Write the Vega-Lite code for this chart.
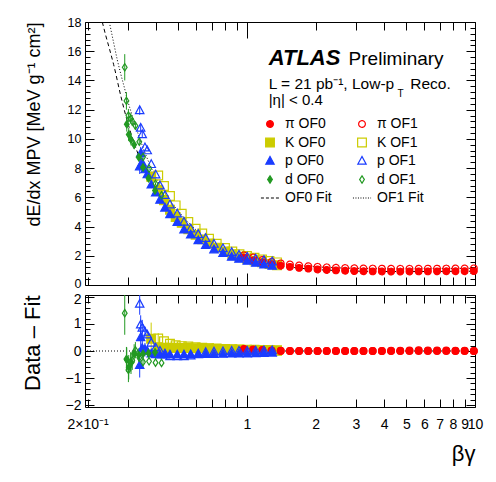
{
"$schema":"https://vega.github.io/schema/vega-lite/v6.json",
"background":"white",
"padding":{"left":20,"top":15,"right":14,"bottom":10},
"spacing":10,
"bounds":"flush",
"config":{"font":"Liberation Sans","view":{"stroke":"#000","strokeWidth":1},
"axis":{"grid":false,"domain":false,"tickColor":"#000","labelColor":"#000","titleColor":"#000","labelFont":"Liberation Sans","titleFont":"Liberation Sans","titleFontWeight":"normal","tickWidth":1,"labelBound":false,"labelFlush":false,"labelOverlap":false,"offset":0},
"legend":{"labelFont":"Liberation Sans","labelColor":"#000"}},
"datasets":{
"fit0":[{"x":0.232,"f":18.0},{"x":0.24,"f":17.1},{"x":0.25,"f":16.1},{"x":0.26,"f":15.1},{"x":0.28,"f":12.9},{"x":0.30,"f":11.1},{"x":0.32,"f":9.7},{"x":0.34,"f":8.62},{"x":0.36,"f":7.76},{"x":0.38,"f":6.97},{"x":0.40,"f":6.38},{"x":0.43,"f":5.64},{"x":0.46,"f":5.04},{"x":0.50,"f":4.40},{"x":0.55,"f":3.79},{"x":0.60,"f":3.32},{"x":0.65,"f":2.96},{"x":0.70,"f":2.68},{"x":0.80,"f":2.25},{"x":0.90,"f":1.97},{"x":1.0,"f":1.75},{"x":1.2,"f":1.47},{"x":1.4,"f":1.31},{"x":1.6,"f":1.20},{"x":2.0,"f":1.06},{"x":2.5,"f":0.99},{"x":3.0,"f":0.95},{"x":4.0,"f":0.925},{"x":5.0,"f":0.92},{"x":6.0,"f":0.925},{"x":8.0,"f":0.935},{"x":10.0,"f":0.945}],
"fit1":[{"x":0.249,"f":18.0},{"x":0.26,"f":16.6},{"x":0.27,"f":15.4},{"x":0.28,"f":14.4},{"x":0.29,"f":13.5},{"x":0.30,"f":12.6},{"x":0.31,"f":11.85},{"x":0.32,"f":11.15},{"x":0.34,"f":9.95},{"x":0.36,"f":8.9},{"x":0.38,"f":8.05},{"x":0.40,"f":7.3},{"x":0.43,"f":6.45},{"x":0.46,"f":5.78},{"x":0.50,"f":5.05},{"x":0.55,"f":4.33},{"x":0.60,"f":3.75},{"x":0.65,"f":3.3},{"x":0.70,"f":2.95},{"x":0.80,"f":2.45},{"x":0.90,"f":2.12},{"x":1.0,"f":1.93},{"x":1.2,"f":1.66},{"x":1.4,"f":1.48},{"x":1.6,"f":1.37},{"x":2.0,"f":1.245},{"x":2.5,"f":1.175},{"x":3.0,"f":1.14},{"x":4.0,"f":1.115},{"x":5.0,"f":1.11},{"x":6.0,"f":1.12},{"x":8.0,"f":1.13},{"x":10.0,"f":1.14}],
"pts":[
{"s":"K OF0","x":0.38,"y":7.4,"r":0.45,"e":0.4,"re":0.6},
{"s":"K OF0","x":0.408,"y":6.5,"r":0.12,"e":0,"re":0},
{"s":"K OF0","x":0.4325,"y":5.8,"r":0.12,"e":0,"re":0},
{"s":"K OF0","x":0.4595,"y":5.15,"r":0.12,"e":0,"re":0},
{"s":"K OF0","x":0.4866,"y":4.65,"r":0.12,"e":0,"re":0},
{"s":"K OF0","x":0.5173,"y":4.25,"r":0.11,"e":0,"re":0},
{"s":"K OF0","x":0.5529,"y":3.82,"r":0.11,"e":0,"re":0},
{"s":"K OF0","x":0.5952,"y":3.43,"r":0.1,"e":0,"re":0},
{"s":"K OF0","x":0.6364,"y":3.12,"r":0.1,"e":0,"re":0},
{"s":"K OF0","x":0.6814,"y":2.84,"r":0.09,"e":0,"re":0},
{"s":"K OF0","x":0.7364,"y":2.56,"r":0.08,"e":0,"re":0},
{"s":"K OF0","x":0.8007,"y":2.3,"r":0.07,"e":0,"re":0},
{"s":"K OF0","x":0.8621,"y":2.1,"r":0.06,"e":0,"re":0},
{"s":"K OF0","x":0.927,"y":1.94,"r":0.05,"e":0,"re":0},
{"s":"K OF0","x":1.0,"y":1.8,"r":0.04,"e":0,"re":0},
{"s":"K OF0","x":1.079,"y":1.67,"r":0.03,"e":0,"re":0},
{"s":"K OF0","x":1.164,"y":1.55,"r":0.02,"e":0,"re":0},
{"s":"K OF0","x":1.255,"y":1.44,"r":0.02,"e":0,"re":0},
{"s":"K OF0","x":1.354,"y":1.35,"r":0.01,"e":0,"re":0},
{"s":"K OF1","x":0.408,"y":7.5,"r":0.46,"e":0,"re":0.2},
{"s":"K OF1","x":0.4325,"y":6.78,"r":0.36,"e":0,"re":0},
{"s":"K OF1","x":0.4595,"y":6.09,"r":0.27,"e":0,"re":0},
{"s":"K OF1","x":0.4866,"y":5.45,"r":0.21,"e":0,"re":0},
{"s":"K OF1","x":0.5173,"y":4.88,"r":0.18,"e":0,"re":0},
{"s":"K OF1","x":0.5529,"y":4.31,"r":0.17,"e":0,"re":0},
{"s":"K OF1","x":0.5952,"y":3.85,"r":0.14,"e":0,"re":0},
{"s":"K OF1","x":0.6364,"y":3.52,"r":0.12,"e":0,"re":0},
{"s":"K OF1","x":0.6814,"y":3.17,"r":0.1,"e":0,"re":0},
{"s":"K OF1","x":0.7364,"y":2.83,"r":0.09,"e":0,"re":0},
{"s":"K OF1","x":0.8007,"y":2.53,"r":0.08,"e":0,"re":0},
{"s":"K OF1","x":0.8621,"y":2.29,"r":0.07,"e":0,"re":0},
{"s":"K OF1","x":0.927,"y":2.1,"r":0.06,"e":0,"re":0},
{"s":"K OF1","x":1.0,"y":1.98,"r":0.05,"e":0,"re":0},
{"s":"K OF1","x":1.079,"y":1.86,"r":0.05,"e":0,"re":0},
{"s":"K OF1","x":1.164,"y":1.74,"r":0.04,"e":0,"re":0},
{"s":"K OF1","x":1.255,"y":1.64,"r":0.04,"e":0,"re":0},
{"s":"K OF1","x":1.354,"y":1.55,"r":0.03,"e":0,"re":0},
{"s":"π OF0","x":0.970,"y":1.88,"r":0.08,"e":0,"re":0},
{"s":"π OF0","x":1.064,"y":1.68,"r":0.06,"e":0,"re":0},
{"s":"π OF0","x":1.168,"y":1.55,"r":0.04,"e":0,"re":0},
{"s":"π OF0","x":1.282,"y":1.42,"r":0.02,"e":0,"re":0},
{"s":"π OF0","x":1.406,"y":1.32,"r":0.01,"e":0,"re":0},
{"s":"π OF0","x":1.543,"y":1.24,"r":0.0,"e":0,"re":0},
{"s":"π OF0","x":1.693,"y":1.17,"r":0.0,"e":0,"re":0},
{"s":"π OF0","x":1.858,"y":1.12,"r":0.0,"e":0,"re":0},
{"s":"π OF0","x":2.039,"y":1.065,"r":0.0,"e":0,"re":0},
{"s":"π OF0","x":2.237,"y":1.03,"r":0.0,"e":0,"re":0},
{"s":"π OF0","x":2.455,"y":1.0,"r":0.0,"e":0,"re":0},
{"s":"π OF0","x":2.694,"y":0.975,"r":0.0,"e":0,"re":0},
{"s":"π OF0","x":2.956,"y":0.955,"r":0.0,"e":0,"re":0},
{"s":"π OF0","x":3.243,"y":0.94,"r":0.0,"e":0,"re":0},
{"s":"π OF0","x":3.559,"y":0.93,"r":0.0,"e":0,"re":0},
{"s":"π OF0","x":3.905,"y":0.925,"r":0.0,"e":0,"re":0},
{"s":"π OF0","x":4.285,"y":0.92,"r":0.01,"e":0,"re":0},
{"s":"π OF0","x":4.702,"y":0.92,"r":0.01,"e":0,"re":0},
{"s":"π OF0","x":5.160,"y":0.925,"r":0.02,"e":0,"re":0},
{"s":"π OF0","x":5.662,"y":0.93,"r":0.03,"e":0,"re":0},
{"s":"π OF0","x":6.213,"y":0.93,"r":0.02,"e":0,"re":0},
{"s":"π OF0","x":6.817,"y":0.935,"r":0.02,"e":0,"re":0},
{"s":"π OF0","x":7.481,"y":0.94,"r":0.02,"e":0,"re":0},
{"s":"π OF0","x":8.208,"y":0.94,"r":0.01,"e":0,"re":0},
{"s":"π OF0","x":9.007,"y":0.945,"r":0.01,"e":0,"re":0},
{"s":"π OF0","x":9.884,"y":0.95,"r":0.0,"e":0,"re":0},
{"s":"π OF1","x":0.970,"y":2.03,"r":0.05,"e":0,"re":0},
{"s":"π OF1","x":1.064,"y":1.88,"r":0.03,"e":0,"re":0},
{"s":"π OF1","x":1.168,"y":1.72,"r":0.02,"e":0,"re":0},
{"s":"π OF1","x":1.282,"y":1.59,"r":0.01,"e":0,"re":0},
{"s":"π OF1","x":1.406,"y":1.48,"r":0,"e":0,"re":0},
{"s":"π OF1","x":1.543,"y":1.41,"r":0,"e":0,"re":0},
{"s":"π OF1","x":1.693,"y":1.34,"r":0,"e":0,"re":0},
{"s":"π OF1","x":1.858,"y":1.29,"r":0,"e":0,"re":0},
{"s":"π OF1","x":2.039,"y":1.245,"r":0,"e":0,"re":0},
{"s":"π OF1","x":2.237,"y":1.21,"r":0,"e":0,"re":0},
{"s":"π OF1","x":2.455,"y":1.18,"r":0,"e":0,"re":0},
{"s":"π OF1","x":2.694,"y":1.16,"r":0,"e":0,"re":0},
{"s":"π OF1","x":2.956,"y":1.145,"r":0,"e":0,"re":0},
{"s":"π OF1","x":3.243,"y":1.135,"r":0,"e":0,"re":0},
{"s":"π OF1","x":3.559,"y":1.125,"r":0,"e":0,"re":0},
{"s":"π OF1","x":3.905,"y":1.12,"r":0,"e":0,"re":0},
{"s":"π OF1","x":4.285,"y":1.115,"r":0,"e":0,"re":0},
{"s":"π OF1","x":4.702,"y":1.11,"r":0,"e":0,"re":0},
{"s":"π OF1","x":5.160,"y":1.11,"r":0,"e":0,"re":0},
{"s":"π OF1","x":5.662,"y":1.115,"r":0,"e":0,"re":0},
{"s":"π OF1","x":6.213,"y":1.12,"r":0,"e":0,"re":0},
{"s":"π OF1","x":6.817,"y":1.12,"r":0,"e":0,"re":0},
{"s":"π OF1","x":7.481,"y":1.125,"r":0,"e":0,"re":0},
{"s":"π OF1","x":8.208,"y":1.13,"r":0,"e":0,"re":0},
{"s":"π OF1","x":9.007,"y":1.135,"r":0,"e":0,"re":0},
{"s":"π OF1","x":9.884,"y":1.14,"r":0,"e":0,"re":0},
{"s":"p OF0","x":0.3384,"y":8.1,"r":-0.53,"e":0.5,"re":0.45},
{"s":"p OF0","x":0.3418,"y":9.0,"r":0.5,"e":0.45,"re":0.45},
{"s":"p OF0","x":0.3473,"y":8.35,"r":0.1,"e":0.3,"re":0.35},
{"s":"p OF0","x":0.3569,"y":7.9,"r":0.05,"e":0.2,"re":0.25},
{"s":"p OF0","x":0.3653,"y":7.56,"r":0.0,"e":0,"re":0.15},
{"s":"p OF0","x":0.3804,"y":6.86,"r":-0.1,"e":0,"re":0},
{"s":"p OF0","x":0.3977,"y":6.31,"r":-0.13,"e":0,"re":0},
{"s":"p OF0","x":0.4153,"y":5.82,"r":-0.14,"e":0,"re":0},
{"s":"p OF0","x":0.4368,"y":5.28,"r":-0.14,"e":0,"re":0},
{"s":"p OF0","x":0.4595,"y":4.83,"r":-0.14,"e":0,"re":0},
{"s":"p OF0","x":0.4946,"y":4.3,"r":-0.14,"e":0,"re":0},
{"s":"p OF0","x":0.5293,"y":3.78,"r":-0.14,"e":0,"re":0},
{"s":"p OF0","x":0.5664,"y":3.44,"r":-0.13,"e":0,"re":0},
{"s":"p OF0","x":0.6113,"y":3.05,"r":-0.13,"e":0,"re":0},
{"s":"p OF0","x":0.659,"y":2.72,"r":-0.12,"e":0,"re":0},
{"s":"p OF0","x":0.7166,"y":2.42,"r":-0.12,"e":0,"re":0},
{"s":"p OF0","x":0.7848,"y":2.17,"r":-0.11,"e":0,"re":0},
{"s":"p OF0","x":0.8568,"y":1.92,"r":-0.1,"e":0,"re":0},
{"s":"p OF0","x":0.9223,"y":1.78,"r":-0.1,"e":0,"re":0},
{"s":"p OF0","x":1.003,"y":1.64,"r":-0.1,"e":0,"re":0},
{"s":"p OF0","x":1.092,"y":1.5,"r":-0.09,"e":0,"re":0},
{"s":"p OF0","x":1.187,"y":1.39,"r":-0.08,"e":0,"re":0},
{"s":"p OF0","x":1.29,"y":1.3,"r":-0.07,"e":0,"re":0},
{"s":"p OF1","x":0.3384,"y":11.95,"r":1.74,"e":0.3,"re":0.4},
{"s":"p OF1","x":0.3418,"y":10.75,"r":0.97,"e":0.25,"re":0.35},
{"s":"p OF1","x":0.3473,"y":10.3,"r":0.85,"e":0.2,"re":0.3},
{"s":"p OF1","x":0.3569,"y":9.4,"r":0.7,"e":0,"re":0.2},
{"s":"p OF1","x":0.3653,"y":9.2,"r":0.6,"e":0,"re":0.15},
{"s":"p OF1","x":0.3804,"y":8.26,"r":0.3,"e":0,"re":0},
{"s":"p OF1","x":0.3977,"y":7.55,"r":0.12,"e":0,"re":0},
{"s":"p OF1","x":0.4153,"y":6.8,"r":0.0,"e":0,"re":0},
{"s":"p OF1","x":0.4368,"y":6.14,"r":-0.1,"e":0,"re":0},
{"s":"p OF1","x":0.4595,"y":5.5,"r":-0.2,"e":0,"re":0},
{"s":"p OF1","x":0.4946,"y":4.88,"r":-0.2,"e":0,"re":0},
{"s":"p OF1","x":0.5293,"y":4.31,"r":-0.2,"e":0,"re":0},
{"s":"p OF1","x":0.5664,"y":3.85,"r":-0.17,"e":0,"re":0},
{"s":"p OF1","x":0.6113,"y":3.47,"r":-0.1,"e":0,"re":0},
{"s":"p OF1","x":0.659,"y":3.2,"r":-0.05,"e":0,"re":0},
{"s":"p OF1","x":0.7166,"y":2.8,"r":-0.03,"e":0,"re":0},
{"s":"p OF1","x":0.7848,"y":2.5,"r":-0.02,"e":0,"re":0},
{"s":"p OF1","x":0.8568,"y":2.24,"r":0,"e":0,"re":0},
{"s":"p OF1","x":0.9223,"y":2.06,"r":0,"e":0,"re":0},
{"s":"p OF1","x":1.003,"y":1.92,"r":0,"e":0,"re":0},
{"s":"p OF1","x":1.092,"y":1.8,"r":0.01,"e":0,"re":0},
{"s":"p OF1","x":1.187,"y":1.69,"r":0.02,"e":0,"re":0},
{"s":"p OF1","x":1.29,"y":1.6,"r":0.02,"e":0,"re":0},
{"s":"d OF0","x":0.297,"y":11.0,"r":-0.32,"e":0.5,"re":0.45},
{"s":"d OF0","x":0.303,"y":10.3,"r":-0.6,"e":0.45,"re":0.45},
{"s":"d OF0","x":0.31,"y":9.95,"r":-0.45,"e":0.4,"re":0.4},
{"s":"d OF0","x":0.32,"y":9.6,"r":-0.1,"e":0.3,"re":0.35},
{"s":"d OF0","x":0.335,"y":8.75,"r":-0.15,"e":0.25,"re":0.25},
{"s":"d OF0","x":0.35,"y":8.05,"r":-0.1,"e":0.2,"re":0.2},
{"s":"d OF0","x":0.37,"y":7.31,"r":-0.08,"e":0.15,"re":0.1},
{"s":"d OF0","x":0.395,"y":6.47,"r":-0.05,"e":0.1,"re":0},
{"s":"d OF1","x":0.291,"y":14.9,"r":1.4,"e":0.9,"re":0.8},
{"s":"d OF1","x":0.296,"y":12.6,"r":-0.3,"e":0.6,"re":0.45},
{"s":"d OF1","x":0.302,"y":11.6,"r":-0.7,"e":0.45,"re":0.45},
{"s":"d OF1","x":0.309,"y":11.4,"r":-0.4,"e":0.35,"re":0.35},
{"s":"d OF1","x":0.314,"y":11.2,"r":-0.35,"e":0.3,"re":0.35},
{"s":"d OF1","x":0.324,"y":10.9,"r":0.03,"e":0.25,"re":0.3},
{"s":"d OF1","x":0.337,"y":9.8,"r":-0.25,"e":0.2,"re":0.2},
{"s":"d OF1","x":0.35,"y":8.76,"r":-0.41,"e":0.15,"re":0.1},
{"s":"d OF1","x":0.372,"y":7.96,"r":-0.38,"e":0.1,"re":0},
{"s":"d OF1","x":0.397,"y":6.93,"r":-0.43,"e":0.1,"re":0},
{"s":"d OF1","x":0.422,"y":6.14,"r":-0.44,"e":0.1,"re":0}
]},
"resolve":{"scale":{"stroke":"independent","fill":"independent","shape":"independent","strokeDash":"independent","color":"independent"}},
"vconcat":[
{"width":390,"height":263,
"resolve":{"axis":{"x":"independent","y":"independent"}},
"layer":[
{"data":{"name":"fit0"},"mark":{"type":"line","color":"#000","strokeWidth":1,"strokeDash":[4,3],"interpolate":"monotone","clip":true},
"encoding":{"x":{"field":"x","type":"quantitative","scale":{"type":"log","domain":[0.1948,10],"nice":false},"axis":null},"y":{"field":"f","type":"quantitative","scale":{"domain":[0,18],"nice":false,"zero":false},"axis":null}}},
{"data":{"name":"fit1"},"mark":{"type":"line","color":"#000","strokeWidth":1,"strokeDash":[1,2],"interpolate":"monotone","clip":true},
"encoding":{"x":{"field":"x","type":"quantitative","axis":null},"y":{"field":"f","type":"quantitative","axis":null}}},
{"data":{"name":"pts"},"transform":[{"filter":"datum.e > 0"}],"mark":{"type":"errorbar","thickness":1},
"encoding":{"x":{"field":"x","type":"quantitative","axis":null},"y":{"field":"y","type":"quantitative","axis":null},"yError":{"field":"e"},
"color":{"field":"s","type":"nominal","scale":{"domain":["π OF0","π OF1","K OF0","K OF1","p OF0","p OF1","d OF0","d OF1"],"range":["#ff0000","#ff0000","#cccc00","#cccc00","#1a3cff","#1a3cff","#229922","#229922"]},"legend":null}}},
{"data":{"name":"pts"},"mark":{"type":"point","size":45,"strokeWidth":1.2,"opacity":1},
"encoding":{"x":{"field":"x","type":"quantitative","axis":{"orient":"bottom","values":[0.2,0.3,0.4,0.5,0.6,0.7,0.8,0.9,1,2,3,4,5,6,7,8,9,10],"labels":false,"tickSize":{"condition":{"test":"datum.value == 1 || datum.value == 10","value":-12},"value":-8},"title":null}},
"y":{"field":"y","type":"quantitative","axis":{"orient":"left","values":[0,0.4,0.8,1.2,1.6,2,2.4,2.8,3.2,3.6,4,4.4,4.8,5.2,5.6,6,6.4,6.8,7.2,7.6,8,8.4,8.8,9.2,9.6,10,10.4,10.8,11.2,11.6,12,12.4,12.8,13.2,13.6,14,14.4,14.8,15.2,15.6,16,16.4,16.8,17.2,17.6,18],"tickSize":{"condition":{"test":"datum.value % 2 == 0","value":-9},"value":-5},"labelExpr":"datum.value % 2 == 0 ? format(datum.value, 'd') : ''","labelPadding":13,"labelFontSize":12.5,"labelOffset":{"condition":{"test":"datum.value == 0","value":-2},"value":0},"title":"dE/dx MPV [MeV g⁻¹ cm²]","titleFontSize":18,"titleAnchor":"end","titleBaseline":"middle","titleX":-51}},
"stroke":{"field":"s","type":"nominal","scale":{"domain":["π OF0","K OF0","p OF0","d OF0","OF0 Fit","π OF1","K OF1","p OF1","d OF1","OF1 Fit"],"range":["#ff0000","#cccc00","#1a3cff","#229922","#000000","#ff0000","#cccc00","#1a3cff","#229922","#000000"]},
"legend":{"orient":"none","legendX":178,"legendY":95,"columns":2,"columnPadding":18,"rowPadding":4.5,"labelFontSize":14,"labelOffset":8,"symbolStrokeWidth":1.2,"symbolSize":45,"title":null,"padding":0}},
"fill":{"field":"s","type":"nominal","scale":{"domain":["π OF0","K OF0","p OF0","d OF0","OF0 Fit","π OF1","K OF1","p OF1","d OF1","OF1 Fit"],"range":["#ff0000","#cccc00","#1a3cff","#229922","transparent","transparent","transparent","transparent","transparent","transparent"]},
"legend":{"orient":"none","legendX":178,"legendY":95,"columns":2,"columnPadding":18,"rowPadding":4.5,"labelFontSize":14,"labelOffset":8,"symbolStrokeWidth":1.2,"symbolSize":45,"title":null,"padding":0}},
"shape":{"field":"s","type":"nominal","scale":{"domain":["π OF0","K OF0","p OF0","d OF0","OF0 Fit","π OF1","K OF1","p OF1","d OF1","OF1 Fit"],"range":["circle","M-1.3,-1.3H1.3V1.3H-1.3Z","M0,-1.35L1.25,0.95H-1.25Z","M0,-1.1L0.7,0L0,1.1L-0.7,0Z","M-2.7,0H2.7","circle","M-1.3,-1.3H1.3V1.3H-1.3Z","M0,-1.35L1.25,0.95H-1.25Z","M0,-1.1L0.7,0L0,1.1L-0.7,0Z","M-2.7,0H2.7"]},
"legend":{"orient":"none","legendX":178,"legendY":95,"columns":2,"columnPadding":18,"rowPadding":4.5,"labelFontSize":14,"labelOffset":8,"symbolStrokeWidth":1.2,"symbolSize":45,"title":null,"padding":0}},
"strokeDash":{"field":"s","type":"nominal","scale":{"domain":["π OF0","K OF0","p OF0","d OF0","OF0 Fit","π OF1","K OF1","p OF1","d OF1","OF1 Fit"],"range":[[1,0],[1,0],[1,0],[1,0],[3,2],[1,0],[1,0],[1,0],[1,0],[1,1.5]]},
"legend":{"orient":"none","legendX":178,"legendY":95,"columns":2,"columnPadding":18,"rowPadding":4.5,"labelFontSize":14,"labelOffset":8,"symbolStrokeWidth":1.2,"symbolSize":45,"title":null,"padding":0}}}},
{"data":{"name":"pts"},"mark":{"type":"point","opacity":0},
"encoding":{"x":{"field":"x","type":"quantitative","axis":{"orient":"top","values":[0.2,0.3,0.4,0.5,0.6,0.7,0.8,0.9,1,2,3,4,5,6,7,8,9,10],"labels":false,"tickSize":{"condition":{"test":"datum.value == 1 || datum.value == 10","value":-16},"value":-8},"title":null}},
"y":{"field":"y","type":"quantitative","axis":{"orient":"right","values":[0,0.4,0.8,1.2,1.6,2,2.4,2.8,3.2,3.6,4,4.4,4.8,5.2,5.6,6,6.4,6.8,7.2,7.6,8,8.4,8.8,9.2,9.6,10,10.4,10.8,11.2,11.6,12,12.4,12.8,13.2,13.6,14,14.4,14.8,15.2,15.6,16,16.4,16.8,17.2,17.6,18],"labels":false,"tickSize":{"condition":{"test":"datum.value % 2 == 0","value":-9},"value":-5},"title":null}}}},
{"data":{"values":[{}]},"mark":{"type":"text","text":"ATLAS","align":"left","baseline":"alphabetic","fontSize":22,"fontStyle":"italic","fontWeight":"bold","color":"#000"},
"encoding":{"x":{"datum":1.245,"type":"quantitative","axis":null},"y":{"datum":15.06,"type":"quantitative","axis":null}}},
{"data":{"values":[{}]},"mark":{"type":"text","text":"Preliminary","align":"left","baseline":"alphabetic","fontSize":19,"color":"#000"},
"encoding":{"x":{"datum":2.79,"type":"quantitative","axis":null},"y":{"datum":15.06,"type":"quantitative","axis":null}}},
{"data":{"values":[{}]},"mark":{"type":"text","text":"L = 21 pb⁻¹, Low-p","align":"left","baseline":"alphabetic","fontSize":15.5,"color":"#000"},
"encoding":{"x":{"datum":1.245,"type":"quantitative","axis":null},"y":{"datum":13.42,"type":"quantitative","axis":null}}},
{"data":{"values":[{}]},"mark":{"type":"text","text":"T","align":"left","baseline":"alphabetic","fontSize":10,"color":"#000"},
"encoding":{"x":{"datum":4.57,"type":"quantitative","axis":null},"y":{"datum":12.9,"type":"quantitative","axis":null}}},
{"data":{"values":[{}]},"mark":{"type":"text","text":"Reco.","align":"left","baseline":"alphabetic","fontSize":15.5,"color":"#000"},
"encoding":{"x":{"datum":5.2,"type":"quantitative","axis":null},"y":{"datum":13.42,"type":"quantitative","axis":null}}},
{"data":{"values":[{}]},"mark":{"type":"text","text":"|η| < 0.4","align":"left","baseline":"alphabetic","fontSize":15,"color":"#000"},
"encoding":{"x":{"datum":1.245,"type":"quantitative","axis":null},"y":{"datum":12.33,"type":"quantitative","axis":null}}}
]},
{"width":390,"height":112,
"resolve":{"axis":{"x":"independent","y":"independent"}},
"layer":[
{"data":{"values":[{}]},"mark":{"type":"rule","strokeDash":[1,2],"color":"#000","strokeWidth":1},
"encoding":{"y":{"datum":0,"type":"quantitative","scale":{"domain":[-2.07,2.07],"nice":false,"zero":false,"clamp":true},"axis":null}}},
{"data":{"name":"pts"},"transform":[{"filter":"datum.re > 0"}],"mark":{"type":"errorbar","thickness":1},
"encoding":{"x":{"field":"x","type":"quantitative","scale":{"type":"log","domain":[0.1948,10],"nice":false},"axis":null},"y":{"field":"r","type":"quantitative","axis":null},"yError":{"field":"re"},
"color":{"field":"s","type":"nominal","scale":{"domain":["π OF0","π OF1","K OF0","K OF1","p OF0","p OF1","d OF0","d OF1"],"range":["#ff0000","#ff0000","#cccc00","#cccc00","#1a3cff","#1a3cff","#229922","#229922"]},"legend":null}}},
{"data":{"name":"pts"},"mark":{"type":"point","size":45,"strokeWidth":1.2,"opacity":1},
"encoding":{"x":{"field":"x","type":"quantitative","axis":{"orient":"bottom","values":[0.2,0.3,0.4,0.5,0.6,0.7,0.8,0.9,1,2,3,4,5,6,7,8,9,10],"tickSize":{"condition":{"test":"datum.value == 1 || datum.value == 10","value":-12},"value":-8},"labelPadding":{"condition":{"test":"datum.value == 1 || datum.value == 10","value":22},"value":18},"labelFontSize":14,"labelExpr":"datum.value == 0.2 ? '2×10⁻¹' : (datum.value >= 1 ? format(datum.value, 'd') : '')","title":"βγ","titleFontSize":22,"titleAnchor":"end","titlePadding":12}},
"y":{"field":"r","type":"quantitative","axis":{"orient":"left","values":[-2,-1.8,-1.6,-1.4,-1.2,-1,-0.8,-0.6,-0.4,-0.2,0,0.2,0.4,0.6,0.8,1,1.2,1.4,1.6,1.8,2],"tickSize":{"condition":{"test":"datum.value % 1 == 0","value":-9},"value":-5},"labelExpr":"datum.value % 1 == 0 ? format(datum.value, 'd') : ''","labelPadding":13,"labelFontSize":14,"labelOffset":{"condition":{"test":"datum.value == 2","value":3},"value":0},"title":"Data – Fit","titleFontSize":22,"titleAnchor":"end","titleBaseline":"middle","titleX":-53}},
"stroke":{"field":"s","type":"nominal","scale":{"domain":["π OF0","π OF1","K OF0","K OF1","p OF0","p OF1","d OF0","d OF1"],"range":["#ff0000","#ff0000","#cccc00","#cccc00","#1a3cff","#1a3cff","#229922","#229922"]},"legend":null},
"fill":{"field":"s","type":"nominal","scale":{"domain":["π OF0","π OF1","K OF0","K OF1","p OF0","p OF1","d OF0","d OF1"],"range":["#ff0000","transparent","#cccc00","transparent","#1a3cff","transparent","#229922","transparent"]},"legend":null},
"shape":{"field":"s","type":"nominal","scale":{"domain":["π OF0","π OF1","K OF0","K OF1","p OF0","p OF1","d OF0","d OF1"],"range":["circle","circle","M-1.3,-1.3H1.3V1.3H-1.3Z","M-1.3,-1.3H1.3V1.3H-1.3Z","M0,-1.35L1.25,0.95H-1.25Z","M0,-1.35L1.25,0.95H-1.25Z","M0,-1.1L0.7,0L0,1.1L-0.7,0Z","M0,-1.1L0.7,0L0,1.1L-0.7,0Z"]},"legend":null}}},
{"data":{"name":"pts"},"mark":{"type":"point","opacity":0},
"encoding":{"x":{"field":"x","type":"quantitative","axis":{"orient":"top","values":[0.2,0.3,0.4,0.5,0.6,0.7,0.8,0.9,1,2,3,4,5,6,7,8,9,10],"labels":false,"tickSize":{"condition":{"test":"datum.value == 1 || datum.value == 10","value":-12},"value":-8},"title":null}},
"y":{"field":"r","type":"quantitative","axis":{"orient":"right","values":[-2,-1.8,-1.6,-1.4,-1.2,-1,-0.8,-0.6,-0.4,-0.2,0,0.2,0.4,0.6,0.8,1,1.2,1.4,1.6,1.8,2],"labels":false,"tickSize":{"condition":{"test":"datum.value % 1 == 0","value":-9},"value":-5},"title":null}}}}
]}
]}
